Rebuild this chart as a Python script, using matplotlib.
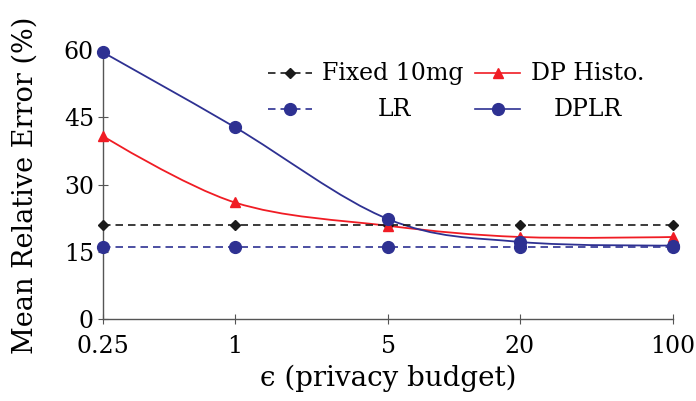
import numpy as np
import matplotlib
matplotlib.use("Agg")
import matplotlib.pyplot as plt
from matplotlib.path import Path
from matplotlib.patches import PathPatch

plt.rcParams['font.family'] = ['DejaVu Serif']

eps = [0.25, 1, 5, 20, 100]
tick_labels = ["0.25", "1", "5", "20", "100"]
fixed = [21.0, 21.0, 21.0, 21.0, 21.0]
dp_histo = [40.8, 26.0, 20.8, 18.3, 18.3]
lr = [16.0, 16.0, 16.0, 16.0, 16.0]
dplr = [59.5, 42.8, 22.3, 17.2, 16.4]

BLUE = "#2e3192"
RED = "#f01c24"
BLACK = "#1a1a1a"

fig = plt.figure(figsize=(6.96, 4.01), dpi=100)
ax = fig.add_axes([0.148, 0.2045, 0.819, 0.6705])

xs = np.log(np.array(eps))


def smooth_path(x, y, k=0.17):
    P = np.column_stack([x, y])
    n = len(P)
    T = np.zeros_like(P)
    for i in range(1, n - 1):
        T[i] = k * (P[i + 1] - P[i - 1])
    verts = [P[0]]
    codes = [Path.MOVETO]
    for i in range(n - 1):
        verts += [P[i] + T[i], P[i + 1] - T[i + 1], P[i + 1]]
        codes += [Path.CURVE4] * 3
    return Path(verts, codes)


ax.add_patch(PathPatch(smooth_path(xs, dp_histo), fill=False, edgecolor=RED,
                       lw=1.3, clip_on=False, zorder=2))
ax.add_patch(PathPatch(smooth_path(xs, dplr), fill=False, edgecolor=BLUE,
                       lw=1.3, clip_on=False, zorder=2))
ax.plot(xs, fixed, color=BLACK, lw=1.2, dashes=(4.5, 3), marker='D',
        markersize=5.5, clip_on=False, zorder=3)
ax.plot(xs, lr, color=BLUE, lw=1.2, dashes=(4.5, 3), marker='o',
        markersize=8.5, clip_on=False, zorder=3)
ax.plot(xs, dp_histo, ls='none', color=RED, marker='^', markersize=7,
        clip_on=False, zorder=4)
ax.plot(xs, dplr, ls='none', color=BLUE, marker='o', markersize=8.5,
        clip_on=False, zorder=4)

ax.set_xlim(xs[0], xs[-1])
ax.set_ylim(0, 60)
ax.set_xticks(xs)
ax.set_xticklabels(tick_labels)
ax.set_yticks([0, 15, 30, 45, 60])
for s in ['top', 'right']:
    ax.spines[s].set_visible(False)
for s in ['left', 'bottom']:
    ax.spines[s].set_color('#555555')
    ax.spines[s].set_linewidth(1.0)
ax.tick_params(direction='inout', length=7, width=0.8, color='#555555',
               labelsize=17)
ax.tick_params(axis='x', pad=8)
ax.tick_params(axis='y', pad=3)
ax.set_xlabel("ϵ (privacy budget)", fontsize=20)
ax.set_ylabel("Mean Relative Error (%)", fontsize=19.5)
ax.xaxis.set_label_coords(0.501, (319 - 378) / (319 - 50), transform=ax.transAxes)
ax.xaxis.label.set_va('center')
ax.yaxis.set_label_coords((25 - 103) / (673 - 103), (319 - 185) / (319 - 50), transform=ax.transAxes)
ax.yaxis.label.set_va('center')


def ax_xy(px, py):
    return ((px - 103) / (673 - 103), (319 - py) / (319 - 50))


entries = [
    (268, 312, 73, "Fixed 10mg", 393, dict(color=BLACK, dashes=(4.5, 3), marker='D', markersize=5.5)),
    (475, 520, 73, "DP Histo.", 588, dict(color=RED, marker='^', markersize=7)),
    (268, 312, 109, "LR", 394, dict(color=BLUE, dashes=(4.5, 3), marker='o', markersize=8.5)),
    (475, 520, 109, "DPLR", 588, dict(color=BLUE, marker='o', markersize=8.5)),
]
for x0, x1, yy, label, tx, style in entries:
    a0 = ax_xy(x0, yy)
    a1 = ax_xy(x1, yy)
    am = ax_xy((x0 + x1) / 2, yy)
    st = dict(style)
    mk = st.pop('marker'); ms = st.pop('markersize')
    ax.plot([a0[0], a1[0]], [a0[1], a1[1]], transform=ax.transAxes, lw=1.2,
            clip_on=False, **st)
    ax.plot([am[0]], [am[1]], transform=ax.transAxes, marker=mk, markersize=ms,
            color=st['color'], ls='none', clip_on=False)
    t = ax_xy(tx, yy)
    ax.text(t[0], t[1], label, transform=ax.transAxes, ha='center', va='center',
            fontsize=17)

fig.savefig("out.png", dpi=100)
